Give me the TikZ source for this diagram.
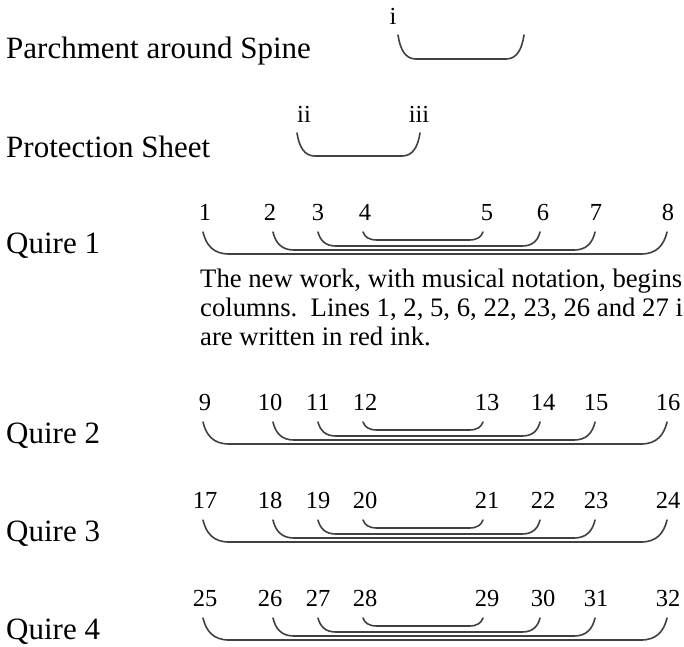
\documentclass[tikz,border=0pt]{standalone}
\usepackage{fontspec}
\setmainfont{Liberation Serif}

\tikzset{
  leaf/.style={line width=1.6pt, black!75, line cap=round},
  title/.style={anchor=base west, inner sep=0pt, font=\fontsize{31}{36}\selectfont},
  folio/.style={anchor=base, inner sep=0pt, font=\fontsize{24.5}{28}\selectfont},
  note/.style={anchor=north west, inner sep=0pt, align=left, font=\fontsize{26.7}{29}\selectfont}
}

\begin{document}
\begin{tikzpicture}[x=1pt, y=-1pt]

  % Page of the reference (y runs downwards)
  \clip (0,0) rectangle (684,646);

  % One folded sheet: left tip, right tip, tip height, depth, corner width
  \def\sheet#1#2#3#4#5{%
    \draw[leaf] (#1,#3) .. controls ({#1+0.12*#5},{#3+0.6*#4}) and ({#1+0.4*#5},{#3+#4}) .. ({#1+#5},{#3+#4})
      -- ({#2-#5},{#3+#4}) .. controls ({#2-0.4*#5},{#3+#4}) and ({#2-0.12*#5},{#3+0.6*#4}) .. (#2,#3);
  }

  % Parchment around the spine
  \node[title] (parch) at (6,58) {Parchment around Spine};
  \node[folio] (i) at (393,24) {i};
  \sheet{398}{524}{35}{24}{18}

  % Protection sheet
  \node[title] (prot) at (6,157) {Protection Sheet};
  \node[folio] (ii) at (304,122) {ii};
  \node[folio] (iii) at (419,122) {iii};
  \sheet{297}{420}{133}{23}{18}

  % The four quires: number, tip height, first leaf
  \foreach \q/\ty/\f in {1/232/1, 2/422/9, 3/520/17, 4/618/25} {
    \node[title] (quire\q) at (6,{\ty+21}) {Quire \q};
    \foreach \x [count=\k from 0] in {205,270,318,365,487,543,596,668} {
      \pgfmathtruncatemacro{\n}{\f+\k}
      \node[folio] (n\n) at (\x,{\ty-12}) {\n};
    }
    \foreach \xl/\xr/\d/\w in {203/667/22/26, 273/595/18/21, 318/540/14/18, 363/483/8/14} {
      \sheet{\xl}{\xr}{\ty}{\d}{\w}
    }
  }

  % Note under the first quire
  \node[note] (remark) at (200,269) {The new work, with musical notation, begins\\
    columns.\ \ Lines 1, 2, 5, 6, 22, 23, 26 and 27 i\\
    are written in red ink.};

\end{tikzpicture}
\end{document}
